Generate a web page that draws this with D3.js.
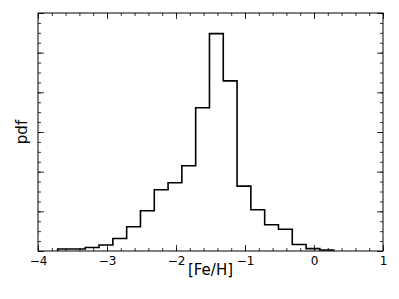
<!DOCTYPE html>
<html>
<head>
<meta charset="utf-8">
<script src="https://cdn.jsdelivr.net/npm/d3@7"></script>
<style>
  body { margin: 0; background: #fff; }
  svg { display: block; font-family: "DejaVu Sans", sans-serif; }
</style>
</head>
<body>
<script>
(function (d3) {
  "use strict";

  /***** Data *****/
  var binEdges = [-3.715, -3.515, -3.315, -3.115, -2.915, -2.715, -2.515, -2.315, -2.115, -1.915,
                  -1.715, -1.515, -1.315, -1.115, -0.915, -0.715, -0.515, -0.315, -0.115, 0.085, 0.285];
  var pdfValues = [0.010, 0.010, 0.018, 0.030, 0.063, 0.122, 0.203, 0.309, 0.344, 0.430,
                   0.722, 1.096, 0.858, 0.327, 0.208, 0.132, 0.110, 0.033, 0.012, 0.005];
  var xTicks = [-4, -3, -2, -1, 0, 1];
  var xMinorTicks = d3.range(-4, 1.0001, 0.2);
  var yTicks = [0, 0.2, 0.4, 0.6, 0.8, 1.0, 1.2];
  var yMinorTicks = d3.range(0, 1.2001, 0.05);

  /***** Configuration *****/
  var totalWidth = 399, totalHeight = 299;
  var margin = { top: 13, right: 16, bottom: 48, left: 38 };
  var width = totalWidth - margin.left - margin.right;
  var height = totalHeight - margin.top - margin.bottom;

  var xScale = d3.scaleLinear().domain([-4, 1]).range([0, width]);
  var yScale = d3.scaleLinear().domain([0, 1.2]).range([height, 0]);

  var svg = d3.select("body").append("svg")
      .attr("width", totalWidth)
      .attr("height", totalHeight);

  var g = svg.append("g")
      .attr("transform", "translate(" + margin.left + "," + margin.top + ")");

  /***** Histogram (step) *****/
  var pts = [[binEdges[0], 0]];
  pdfValues.forEach(function (v, i) {
    pts.push([binEdges[i], v]);
    pts.push([binEdges[i + 1], v]);
  });
  pts.push([binEdges[binEdges.length - 1], 0]);

  var line = d3.line()
      .x(function (d) { return xScale(d[0]); })
      .y(function (d) { return yScale(d[1]); });

  g.append("path")
      .datum(pts)
      .attr("d", line)
      .attr("fill", "none")
      .attr("stroke", "#000")
      .attr("stroke-width", 1.6)
      .attr("stroke-linejoin", "miter");

  /***** Axes (inward ticks, matplotlib style) *****/
  var majorLen = 6, minorLen = 3;

  function styleAxis(sel) {
    sel.select(".domain").remove();
    sel.selectAll(".tick line").attr("stroke", "#000").attr("stroke-width", 0.8);
  }

  // minor ticks
  g.append("g").attr("transform", "translate(0," + height + ")")
      .call(d3.axisBottom(xScale).tickValues(xMinorTicks).tickSize(-minorLen).tickFormat(""))
      .call(styleAxis);
  g.append("g")
      .call(d3.axisTop(xScale).tickValues(xMinorTicks).tickSize(-minorLen).tickFormat(""))
      .call(styleAxis);
  g.append("g")
      .call(d3.axisLeft(yScale).tickValues(yMinorTicks).tickSize(-minorLen).tickFormat(""))
      .call(styleAxis);
  g.append("g").attr("transform", "translate(" + width + ",0)")
      .call(d3.axisRight(yScale).tickValues(yMinorTicks).tickSize(-minorLen).tickFormat(""))
      .call(styleAxis);

  // major ticks
  var xAxis = g.append("g").attr("transform", "translate(0," + height + ")")
      .call(d3.axisBottom(xScale).tickValues(xTicks).tickSize(-majorLen).tickPadding(5)
        .tickFormat(d3.format("d")))
      .call(styleAxis);
  xAxis.selectAll(".tick text")
      .attr("font-size", 12)
      .attr("font-family", "DejaVu Sans, sans-serif")
      .attr("fill", "#000");

  g.append("g")
      .call(d3.axisTop(xScale).tickValues(xTicks).tickSize(-majorLen).tickFormat(""))
      .call(styleAxis);
  g.append("g")
      .call(d3.axisLeft(yScale).tickValues(yTicks).tickSize(-majorLen).tickFormat(""))
      .call(styleAxis);
  g.append("g").attr("transform", "translate(" + width + ",0)")
      .call(d3.axisRight(yScale).tickValues(yTicks).tickSize(-majorLen).tickFormat(""))
      .call(styleAxis);

  // frame
  g.append("rect")
      .attr("width", width)
      .attr("height", height)
      .attr("fill", "none")
      .attr("stroke", "#000")
      .attr("stroke-width", 1);

  /***** Labels *****/
  g.append("text")
      .attr("x", width / 2)
      .attr("y", height + 24)
      .attr("text-anchor", "middle")
      .attr("font-size", 15)
      .text("[Fe/H]");

  g.append("text")
      .attr("transform", "translate(" + (-11) + "," + (height / 2) + ") rotate(-90)")
      .attr("text-anchor", "middle")
      .attr("font-size", 15)
      .text("pdf");

})(d3);
</script>
</body>
</html>
